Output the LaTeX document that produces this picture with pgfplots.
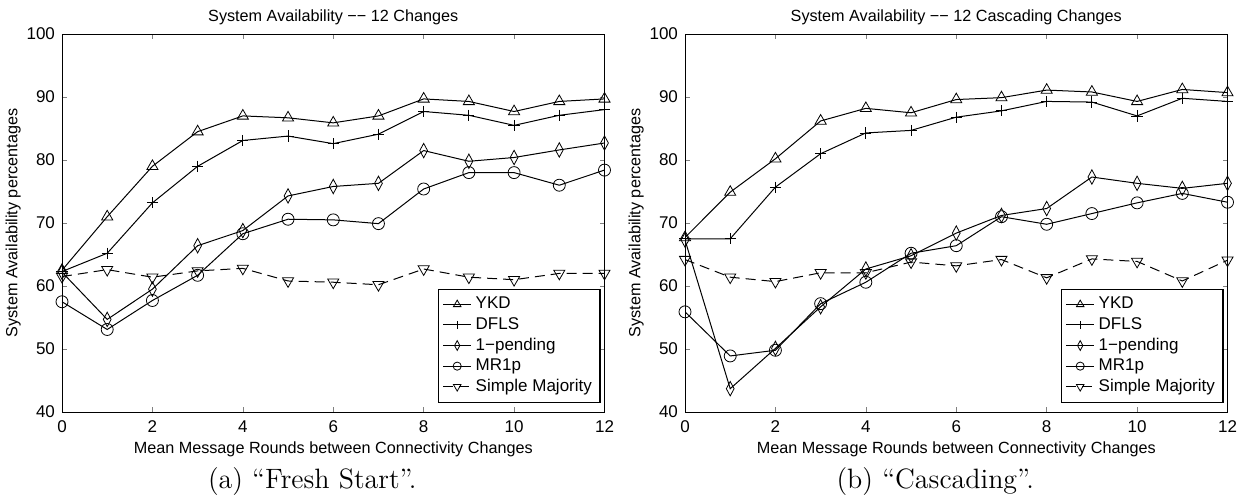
\documentclass[border=0pt]{standalone}
\usepackage{pgfplots}
\pgfplotsset{compat=1.18}
\usepackage{fontspec}
\newfontfamily\hel{Liberation Sans}

\pgfplotstableread{
x ykd  dfls  onep  mr1p  smaj
0 62.5 62.3  62.2  57.5  61.5
1 71.0 65.2  54.7  53.1  62.6
2 79.0 73.2  59.5  57.7  61.4
3 84.5 79.0  66.4  61.7  62.4
4 87.0 83.1  68.8  68.3  62.8
5 86.7 83.8  74.3  70.6  60.8
6 85.9 82.6  75.8  70.5  60.6
7 87.0 84.1  76.3  69.9  60.2
8 89.7 87.7  81.5  75.4  62.7
9 89.3 87.1  79.8  78.0  61.4
10 87.7 85.5 80.4  78.0  61.0
11 89.3 87.1 81.6  76.0  62.0
12 89.7 88.0 82.7  78.4  62.0
}\fresh

\pgfplotstableread{
x ykd  dfls  onep  mr1p  smaj
0 67.7 67.5  67.3  55.9  64.2
1 74.9 67.5  43.7  48.9  61.4
2 80.2 75.7  50.1  49.8  60.7
3 86.2 81.0  56.7  57.2  62.1
4 88.2 84.3  62.7  60.6  62.1
5 87.5 84.7  64.8  65.2  63.8
6 89.6 86.8  68.4  66.4  63.2
7 89.9 87.8  71.2  71.0  64.2
8 91.1 89.3  72.3  69.8  61.3
9 90.8 89.2  77.3  71.5  64.3
10 89.3 87.0 76.3  73.2  63.9
11 91.2 89.8 75.5  74.7  60.8
12 90.7 89.3 76.3  73.3  64.1
}\cascade

\pgfplotsset{
  avail/.style={
    scale only axis, width=271.25pt, height=189pt,
    xmin=0, xmax=12, ymin=40, ymax=100,
    xtick={0,2,...,12}, ytick={40,50,...,100},
    tick align=inside, major tick length=2.5pt, tick pos=both,
    font=\hel,
    tick label style={font=\hel\fontsize{8.5}{10}\selectfont},
    xticklabel style={yshift=-1pt},
    /pgf/number format/assume math mode=true,
    label style={font=\hel\fontsize{8.1}{9.5}\selectfont},
    title style={font=\hel\fontsize{8.1}{9.5}\selectfont, yshift=-5pt},
    xlabel={Mean Message Rounds between Connectivity Changes},
    ylabel={System Availability percentages},
    xlabel style={yshift=2.5pt},
    ylabel style={yshift=-4pt},
    every axis plot/.append style={black, line width=0.5pt},
    legend style={at={(1,0)}, anchor=south east, xshift=-2pt, yshift=4.5pt,
      font=\hel\fontsize{8.5}{10}\selectfont, draw=black, line width=0.6pt,
      row sep=-1.2pt, inner sep=2pt, cells={anchor=west}},
    legend image code/.code={
      \draw[mark repeat=2,mark phase=2, every mark/.append style={scale=0.68}]
        plot coordinates {(0pt,0pt)(7pt,0pt)(14pt,0pt)};},
  },
  ykd/.style={mark=triangle, mark size=3.2pt, mark options={solid, fill=none, line width=0.4pt}},
  dfls/.style={mark=+, mark size=2.8pt, mark options={solid, line width=0.4pt}},
  onep/.style={mark=diamond, mark size=3.6pt, mark options={solid, fill=none, line width=0.4pt, xscale=0.72}},
  mr1p/.style={mark=o, mark size=3pt, mark options={solid, fill=none, line width=0.4pt}},
  smaj/.style={dash pattern=on 5pt off 3pt, mark=triangle, mark size=3.2pt,
    mark options={solid, fill=none, line width=0.4pt, rotate=180}},
}

\begin{document}
\begin{tikzpicture}
\useasboundingbox (-31pt,-44pt) rectangle (592pt,206pt);

\begin{axis}[avail, name=a1, title={System Availability −− 12 Changes}]
\addplot[ykd] table[y=ykd] {\fresh};
\addlegendentry{YKD}
\addplot[dfls] table[y=dfls] {\fresh};
\addlegendentry{DFLS}
\addplot[onep] table[y=onep] {\fresh};
\addlegendentry{1−pending}
\addplot[mr1p] table[y=mr1p] {\fresh};
\addlegendentry{MR1p}
\addplot[smaj] table[y=smaj] {\fresh};
\addlegendentry{Simple Majority}
\end{axis}

\begin{axis}[avail, name=a2, xshift=311.5pt, title={System Availability −− 12 Cascading Changes}]
\addplot[ykd] table[y=ykd] {\cascade};
\addlegendentry{YKD}
\addplot[dfls] table[y=dfls] {\cascade};
\addlegendentry{DFLS}
\addplot[onep] table[y=onep] {\cascade};
\addlegendentry{1−pending}
\addplot[mr1p] table[y=mr1p] {\cascade};
\addlegendentry{MR1p}
\addplot[smaj] table[y=smaj] {\cascade};
\addlegendentry{Simple Majority}
\end{axis}

\node[font=\fontsize{14}{16}\selectfont] at ([xshift=-10.5pt, yshift=-35pt]a1.south) {(a) ``Fresh Start''.};
\node[font=\fontsize{14}{16}\selectfont] at ([xshift=-10.5pt, yshift=-35pt]a2.south) {(b) ``Cascading''.};
\end{tikzpicture}
\end{document}
